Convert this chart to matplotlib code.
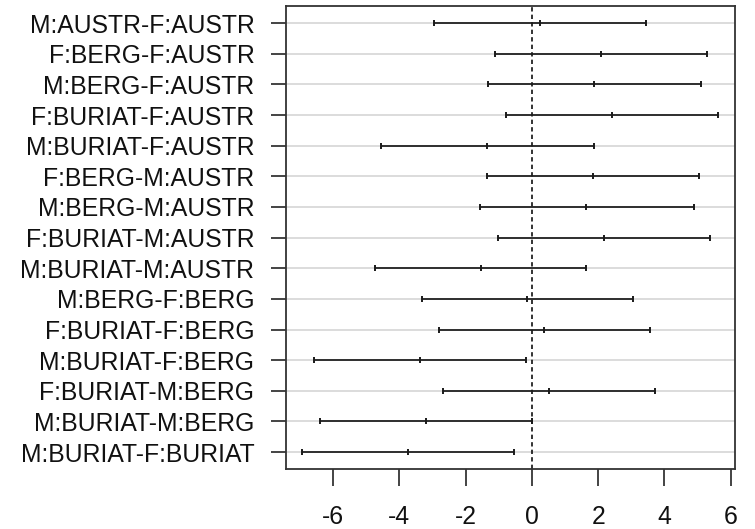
import matplotlib
matplotlib.use("Agg")
import matplotlib.pyplot as plt
import numpy as np

comparisons = ["M:AUSTR-F:AUSTR", "F:BERG-F:AUSTR", "M:BERG-F:AUSTR", "F:BURIAT-F:AUSTR",
               "M:BURIAT-F:AUSTR", "F:BERG-M:AUSTR", "M:BERG-M:AUSTR", "F:BURIAT-M:AUSTR",
               "M:BURIAT-M:AUSTR", "M:BERG-F:BERG", "F:BURIAT-F:BERG", "M:BURIAT-F:BERG",
               "F:BURIAT-M:BERG", "M:BURIAT-M:BERG", "M:BURIAT-F:BURIAT"]
diff = [0.24, 2.08, 1.88, 2.42, -1.36, 1.83, 1.64, 2.18, -1.55, -0.15, 0.38, -3.39, 0.52, -3.20, -3.74]
lwr = [-2.96, -1.11, -1.31, -0.78, -4.55, -1.36, -1.56, -1.02, -4.74, -3.33, -2.81, -6.59, -2.67, -6.39, -6.93]
upr = [3.44, 5.28, 5.09, 5.62, 1.89, 5.04, 4.88, 5.38, 1.64, 3.04, 3.58, -0.19, 3.73, 0.00, -0.53]
xticks = [-6, -4, -2, 0, 2, 4, 6]

plt.rcParams['font.family'] = ['Liberation Sans', 'DejaVu Sans']

fig = plt.figure(figsize=(7.55, 5.29), dpi=100)
ax = fig.add_axes([0.3784, 0.1129, 0.9731 - 0.3784, 0.98866 - 0.1129])

n = len(comparisons)
yvals = np.arange(n, 0, -1)

for y in yvals:
    ax.axhline(y, color='#dcdcdc', lw=1.4, zorder=1)

ax.axvline(0, color='#111111', lw=1.2, linestyle=(0, (2.6, 1.9)), zorder=2)

for y, lo, d, hi in zip(yvals, lwr, diff, upr):
    ax.plot([lo, hi], [y, y], color='#1a1a1a', lw=1.25, zorder=3, solid_capstyle='butt')
    ax.plot([lo, d, hi], [y, y, y], linestyle='none', marker='|', markersize=5,
            markeredgewidth=1.4, color='#1a1a1a', zorder=4)

ax.margins(x=0.04, y=0.04)
ax.autoscale_view()

ax.set_yticks(yvals)
ax.set_yticklabels(comparisons)
ax.set_xticks(xticks)
ax.set_xticklabels([str(t) for t in xticks])

ax.tick_params(axis='y', length=10.5, width=1.1, pad=12, labelsize=17.8, colors='#111111')
ax.tick_params(axis='x', length=12, width=1.1, pad=14, labelsize=17.8, colors='#111111')
for s in ax.spines.values():
    s.set_color('#333333')
    s.set_linewidth(1.3)

fig.savefig("out.png", dpi=100)
